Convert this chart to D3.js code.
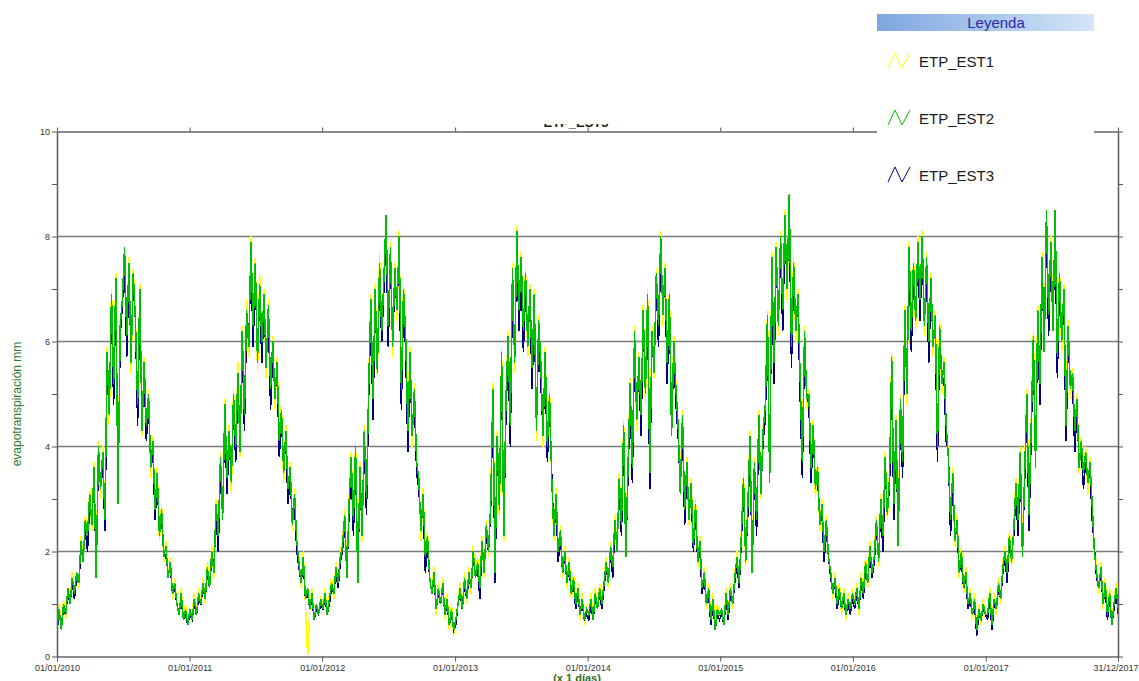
<!DOCTYPE html>
<html>
<head>
<meta charset="utf-8">
<script src="https://cdn.jsdelivr.net/npm/d3@7"></script>
<style>
  body { margin: 0; background: #fff; }
  text { font-family: "Liberation Sans", Arial, sans-serif; }
</style>
</head>
<body>
<div id="chart"></div>
<script>

// Series names, colours and axis labels.

var seriesNames = ['ETP_EST1', 'ETP_EST2', 'ETP_EST3'];
var seriesColors = ['#ffff00', '#00bf00', '#000080'];
var xTickLabels = ['01/01/2010', '01/01/2011', '01/01/2012', '01/01/2013', '01/01/2014',
  '01/01/2015', '01/01/2016', '01/01/2017', '31/12/2017'];
var yTickLabels = [0, 2, 4, 6, 8, 10];

// Readings start on this day and are spaced stepDays apart.

var startDate = '01/01/2010';
var stepDays = 6;

// ETP_EST1 (yellow), one line per year.

var etpEst1 = [
  0.6, 1.0, 0.5, 1.1, 0.7, 1.3, 1.0, 1.6, 1.2, 1.6, 1.3, 2.3, 1.8, 2.7, 2.3, 3.2, 2.4, 3.7, 1.6, 4.1, 3.0, 4.0, 2.6, 5.9, 4.4, 7.0, 5.3, 7.3, 3.0, 6.4, 6.6, 7.7, 6.0, 7.6, 5.4, 7.4, 6.5, 4.6, 7.1, 4.2, 5.7, 4.3, 5.1, 3.4, 4.2, 2.7, 3.6, 2.2, 2.9, 1.8, 2.2, 1.5, 1.9, 1.1, 1.5, 1.0, 0.8, 1.3, 0.7, 1.0, 0.6,
  0.9, 0.8, 1.2, 0.8, 1.3, 1.0, 1.5, 1.0, 1.8, 1.3, 2.1, 1.5, 3.0, 2.2, 3.9, 2.6, 4.9, 3.3, 4.4, 3.1, 5.1, 3.9, 5.6, 3.8, 6.3, 4.4, 6.8, 5.7, 8.0, 6.1, 7.6, 5.4, 7.3, 5.8, 7.0, 5.3, 6.8, 4.8, 6.1, 4.7, 5.7, 4.2, 4.8, 3.3, 4.4, 3.1, 3.7, 2.4, 3.2, 2.1, 1.9, 1.3, 2.0, 1.0, 0.0, 0.9, 1.3, 0.7, 1.0, 0.8, 1.1,
  1.0, 1.3, 0.8, 1.2, 1.5, 1.1, 1.8, 1.3, 2.0, 2.2, 2.8, 1.6, 3.0, 3.9, 2.5, 4.1, 1.5, 3.7, 2.2, 4.4, 2.9, 5.2, 6.9, 4.7, 7.1, 5.3, 7.7, 6.0, 7.3, 8.3, 6.1, 7.9, 5.7, 7.5, 6.4, 8.1, 5.0, 7.1, 6.0, 4.6, 5.9, 4.0, 5.2, 3.5, 3.5, 2.2, 3.2, 1.8, 2.4, 1.4, 1.3, 1.7, 0.8, 1.4, 1.0, 1.5, 0.7, 1.2, 0.5, 1.0, 0.4,
  0.6, 1.1, 1.4, 0.9, 1.6, 1.0, 1.7, 1.2, 2.1, 1.5, 1.9, 1.3, 2.3, 1.5, 2.6, 1.9, 3.0, 5.2, 1.5, 4.3, 2.6, 5.9, 2.2, 5.0, 6.2, 4.2, 7.5, 5.4, 8.2, 6.4, 7.7, 6.0, 7.4, 5.7, 7.1, 5.3, 7.0, 4.1, 6.5, 5.4, 4.0, 5.9, 3.9, 5.1, 3.3, 2.2, 3.2, 1.9, 2.5, 1.5, 2.1, 1.3, 1.9, 1.1, 1.6, 0.9, 1.4, 0.7, 1.2, 0.6, 1.0,
  0.8, 1.2, 0.7, 1.3, 0.9, 1.4, 0.9, 1.5, 1.9, 1.3, 2.2, 1.6, 2.7, 2.1, 3.5, 2.4, 4.5, 2.0, 3.7, 5.3, 3.5, 6.3, 4.3, 5.8, 4.5, 6.7, 4.8, 7.0, 3.8, 6.3, 5.3, 7.4, 6.1, 8.1, 6.3, 7.5, 5.4, 7.0, 4.4, 6.1, 5.2, 4.3, 3.3, 4.7, 2.7, 3.8, 2.5, 3.4, 2.0, 3.0, 1.7, 2.3, 1.2, 1.7, 0.9, 1.4, 0.7, 1.2, 0.6, 1.0, 0.8,
  0.8, 0.6, 1.3, 0.8, 1.4, 0.9, 1.6, 2.0, 1.3, 2.4, 3.5, 1.7, 3.0, 4.3, 1.7, 3.8, 2.4, 4.7, 3.0, 4.4, 4.6, 6.6, 3.5, 7.7, 5.4, 7.9, 6.1, 8.1, 6.4, 8.5, 6.8, 8.6, 6.1, 7.6, 6.0, 7.0, 5.1, 3.9, 6.3, 4.7, 5.1, 3.4, 4.5, 3.0, 3.7, 2.4, 3.0, 1.9, 2.7, 1.8, 1.7, 1.1, 1.6, 0.9, 1.4, 0.8, 1.3, 0.7, 1.2, 0.8, 1.3,
  1.0, 1.4, 0.8, 1.6, 1.2, 1.9, 1.3, 2.2, 1.5, 2.0, 2.7, 1.7, 3.1, 2.2, 3.9, 2.6, 3.5, 5.8, 2.7, 4.6, 2.3, 5.0, 3.6, 6.7, 4.8, 7.9, 6.0, 7.6, 6.2, 8.0, 6.6, 8.1, 6.1, 7.7, 5.8, 7.3, 5.7, 6.6, 4.2, 6.4, 5.0, 5.7, 4.3, 3.9, 2.5, 3.6, 2.1, 2.7, 1.5, 2.1, 1.2, 1.7, 0.9, 1.3, 0.7, 1.2, 0.5, 1.0, 0.6, 1.1, 0.7,
  0.8, 1.3, 0.6, 1.2, 0.8, 1.5, 1.0, 1.8, 2.1, 1.5, 2.4, 1.7, 2.5, 3.4, 2.5, 4.0, 2.1, 3.6, 5.1, 2.9, 4.5, 6.2, 3.9, 6.7, 5.0, 7.7, 6.0, 8.4, 6.3, 8.0, 6.4, 8.3, 5.9, 7.4, 5.8, 7.1, 4.7, 6.4, 4.9, 5.5, 4.1, 5.0, 3.5, 4.2, 3.3, 4.0, 3.1, 3.8, 2.7, 2.1, 1.7, 1.2, 1.8, 0.9, 1.5, 0.7, 1.3, 0.6, 1.1, 1.4, 0.9
];

// ETP_EST2 (green).

var etpEst2 = [
  0.6, 0.9, 0.5, 1.0, 0.8, 1.3, 1.0, 1.5, 1.2, 1.6, 1.4, 2.2, 1.8, 2.6, 2.3, 3.1, 2.5, 3.6, 1.5, 4.0, 3.2, 3.9, 2.6, 5.8, 4.6, 6.9, 5.2, 7.2, 2.9, 6.3, 6.8, 7.8, 6.1, 7.5, 5.6, 7.3, 6.4, 4.8, 7.0, 4.3, 5.6, 4.4, 5.0, 3.6, 4.1, 2.8, 3.5, 2.3, 2.8, 1.9, 2.1, 1.5, 1.8, 1.2, 1.4, 1.0, 0.8, 1.2, 0.7, 0.9, 0.6,
  0.9, 0.7, 1.1, 0.8, 1.2, 1.0, 1.4, 1.1, 1.7, 1.3, 2.0, 1.6, 2.9, 2.3, 3.8, 2.6, 4.8, 3.4, 4.3, 3.3, 5.0, 4.0, 5.4, 3.9, 6.2, 4.6, 6.6, 5.9, 7.9, 6.3, 7.5, 5.6, 7.1, 6.0, 6.9, 5.5, 6.7, 5.1, 6.0, 4.9, 5.6, 4.1, 4.7, 3.5, 4.3, 3.2, 3.6, 2.5, 3.1, 2.2, 1.8, 1.4, 1.9, 1.1, 1.3, 0.9, 1.2, 0.7, 1.0, 0.8, 1.1,
  0.9, 1.2, 0.8, 1.1, 1.4, 1.2, 1.7, 1.4, 1.9, 2.1, 2.7, 1.5, 2.9, 3.8, 2.6, 4.0, 1.4, 3.6, 2.3, 4.3, 3.0, 5.1, 6.8, 4.9, 7.0, 5.4, 7.5, 6.2, 7.2, 8.4, 6.3, 7.8, 5.9, 7.4, 6.6, 8.0, 5.1, 7.0, 6.1, 4.3, 5.8, 4.2, 5.1, 3.7, 3.4, 2.4, 3.1, 1.9, 2.3, 1.5, 1.2, 1.6, 0.9, 1.3, 1.0, 1.4, 0.8, 1.1, 0.6, 0.9, 0.5,
  0.7, 1.0, 1.3, 0.9, 1.5, 1.1, 1.6, 1.3, 2.0, 1.5, 1.8, 1.3, 2.2, 1.6, 2.5, 2.0, 2.9, 5.1, 1.6, 4.2, 2.8, 5.8, 2.3, 4.9, 6.1, 4.4, 7.4, 5.6, 8.1, 6.6, 7.6, 6.2, 7.3, 5.9, 7.0, 5.5, 6.9, 4.3, 6.4, 5.6, 4.2, 5.8, 4.0, 5.0, 3.4, 2.3, 3.1, 2.0, 2.4, 1.6, 2.0, 1.4, 1.8, 1.2, 1.5, 1.0, 1.3, 0.8, 1.1, 0.7, 0.9,
  0.8, 1.1, 0.7, 1.2, 0.9, 1.3, 1.0, 1.4, 1.8, 1.4, 2.1, 1.7, 2.6, 2.0, 3.4, 2.5, 4.4, 1.9, 3.6, 5.2, 3.6, 6.2, 4.5, 5.7, 4.6, 6.6, 5.0, 6.9, 3.5, 6.2, 5.4, 7.3, 6.3, 8.0, 6.5, 7.4, 5.6, 6.9, 4.2, 6.0, 5.1, 4.4, 3.1, 4.6, 2.8, 3.7, 2.6, 3.3, 2.1, 2.9, 1.8, 2.2, 1.3, 1.6, 1.0, 1.3, 0.7, 1.1, 0.5, 0.9, 0.8,
  0.9, 0.6, 1.2, 0.8, 1.3, 1.0, 1.5, 1.9, 1.4, 2.3, 3.4, 1.8, 2.9, 4.2, 1.6, 3.7, 2.6, 4.6, 3.1, 4.3, 4.8, 6.5, 3.3, 7.6, 5.6, 7.8, 6.3, 8.0, 6.6, 8.4, 7.0, 8.8, 5.9, 7.5, 6.2, 6.9, 5.3, 3.7, 6.2, 4.9, 5.0, 3.6, 4.4, 3.2, 3.6, 2.5, 2.9, 2.0, 2.6, 1.9, 1.6, 1.2, 1.5, 1.0, 1.3, 0.9, 1.2, 0.8, 1.1, 0.9, 1.2,
  1.0, 1.3, 0.9, 1.5, 1.2, 1.8, 1.4, 2.1, 1.6, 1.9, 2.6, 1.8, 3.0, 2.3, 3.8, 2.7, 3.4, 5.7, 2.9, 4.5, 2.1, 4.9, 3.7, 6.6, 5.0, 7.8, 6.2, 7.5, 6.4, 7.9, 6.8, 8.0, 6.3, 7.6, 6.0, 7.2, 5.9, 6.5, 4.0, 6.3, 5.2, 5.6, 4.4, 3.8, 2.6, 3.5, 2.2, 2.6, 1.6, 2.0, 1.3, 1.6, 1.0, 1.2, 0.8, 1.1, 0.5, 0.9, 0.7, 1.0, 0.8,
  0.8, 1.2, 0.6, 1.1, 0.9, 1.4, 1.1, 1.7, 2.0, 1.6, 2.3, 1.8, 2.4, 3.3, 2.6, 3.9, 1.9, 3.5, 5.0, 2.7, 4.4, 6.1, 3.6, 6.6, 5.2, 7.6, 5.8, 8.5, 6.5, 7.9, 6.2, 8.5, 5.7, 7.3, 6.0, 7.0, 4.4, 6.3, 5.1, 5.4, 4.3, 4.9, 3.6, 4.1, 3.5, 3.9, 3.3, 3.7, 2.9, 2.0, 1.6, 1.3, 1.7, 1.0, 1.4, 0.8, 1.2, 0.6, 1.0, 1.3, 0.9
];

// ETP_EST3 (blue).

var etpEst3 = [
  0.5, 0.8, 0.6, 0.9, 0.8, 1.2, 1.0, 1.4, 1.1, 1.5, 1.4, 2.0, 1.9, 2.4, 2.0, 2.9, 2.6, 3.4, 1.6, 3.8, 3.3, 3.7, 2.4, 5.5, 4.7, 6.6, 4.8, 7.0, 3.0, 6.1, 6.7, 7.5, 5.7, 7.3, 5.7, 7.1, 6.4, 4.4, 6.8, 4.4, 5.4, 4.1, 4.8, 3.7, 3.9, 2.6, 3.3, 2.4, 2.6, 2.0, 1.9, 1.6, 1.7, 1.2, 1.3, 1.0, 0.8, 1.1, 0.7, 0.8, 0.6,
  0.8, 0.7, 1.0, 0.8, 1.1, 1.0, 1.3, 1.1, 1.6, 1.3, 1.9, 1.7, 2.7, 2.0, 3.6, 2.7, 4.6, 3.1, 4.1, 3.4, 4.8, 3.7, 5.2, 4.0, 6.0, 4.3, 6.4, 6.0, 7.6, 5.9, 7.3, 5.7, 6.9, 5.6, 6.7, 5.6, 6.5, 4.7, 5.8, 5.0, 5.4, 3.8, 4.5, 3.6, 4.1, 2.9, 3.4, 2.6, 2.9, 2.0, 1.7, 1.4, 1.8, 1.1, 1.2, 0.9, 1.1, 0.7, 0.9, 0.8, 1.0,
  0.9, 1.1, 0.8, 1.0, 1.3, 1.2, 1.6, 1.3, 1.8, 2.0, 2.5, 1.6, 2.7, 3.6, 2.3, 3.8, 1.5, 3.4, 2.4, 4.1, 2.7, 4.9, 6.5, 4.5, 6.8, 5.5, 7.2, 6.0, 7.0, 8.1, 5.9, 7.6, 6.0, 7.1, 6.7, 7.7, 4.7, 6.8, 5.8, 3.9, 5.5, 4.3, 4.9, 3.5, 3.2, 2.5, 2.9, 1.6, 2.1, 1.5, 1.2, 1.5, 0.9, 1.2, 1.0, 1.3, 0.8, 1.0, 0.6, 0.8, 0.5,
  0.6, 1.0, 1.2, 0.9, 1.4, 1.1, 1.5, 1.3, 1.9, 1.5, 1.7, 1.1, 2.1, 1.7, 2.3, 2.0, 2.8, 4.8, 1.4, 4.0, 2.9, 5.5, 2.4, 4.6, 5.8, 4.0, 7.1, 5.7, 7.8, 6.2, 7.3, 5.8, 7.0, 6.0, 6.8, 5.1, 6.6, 4.4, 6.1, 5.2, 4.3, 5.5, 3.7, 4.8, 3.5, 2.3, 2.9, 1.8, 2.3, 1.6, 1.9, 1.4, 1.7, 1.2, 1.4, 0.9, 1.2, 0.8, 1.0, 0.7, 0.8,
  0.7, 1.0, 0.7, 1.1, 0.9, 1.2, 0.9, 1.3, 1.7, 1.4, 2.0, 1.5, 2.5, 2.1, 3.2, 2.3, 4.2, 2.0, 3.4, 5.0, 3.3, 6.0, 4.6, 5.5, 4.2, 6.4, 5.1, 6.7, 3.2, 6.0, 5.5, 7.1, 5.9, 7.7, 6.6, 7.2, 5.2, 6.7, 4.3, 5.8, 4.8, 4.2, 3.2, 4.4, 2.5, 3.5, 2.7, 3.1, 2.0, 2.7, 1.8, 2.0, 1.2, 1.5, 1.0, 1.2, 0.6, 1.0, 0.5, 0.8, 0.7,
  0.8, 0.6, 1.1, 0.7, 1.2, 1.0, 1.4, 1.8, 1.3, 2.2, 3.2, 1.9, 2.7, 4.0, 1.7, 3.5, 2.3, 4.4, 3.2, 4.1, 4.5, 6.3, 3.4, 7.3, 5.2, 7.6, 6.4, 7.7, 6.2, 8.1, 7.1, 8.5, 5.5, 7.3, 6.3, 6.7, 4.9, 3.4, 6.0, 5.0, 4.8, 3.3, 4.2, 3.3, 3.4, 2.6, 2.7, 1.8, 2.4, 1.9, 1.5, 1.2, 1.4, 0.9, 1.2, 0.9, 1.1, 0.8, 1.0, 0.8, 1.1,
  0.9, 1.2, 0.9, 1.4, 1.1, 1.7, 1.4, 2.0, 1.5, 1.8, 2.4, 1.9, 2.8, 2.0, 3.6, 2.8, 3.2, 5.5, 2.6, 4.3, 2.2, 4.7, 3.4, 6.4, 5.1, 7.6, 5.8, 7.3, 6.5, 7.6, 6.4, 7.7, 6.4, 7.3, 5.6, 7.0, 6.0, 6.2, 3.7, 6.0, 5.3, 5.3, 4.1, 3.9, 2.3, 3.3, 2.3, 2.4, 1.6, 1.8, 1.3, 1.5, 0.9, 1.1, 0.8, 1.0, 0.4, 0.8, 0.7, 0.9, 0.8,
  0.7, 1.1, 0.5, 1.0, 0.9, 1.3, 1.1, 1.6, 1.9, 1.4, 2.2, 1.9, 2.3, 3.1, 2.3, 3.7, 2.0, 3.3, 4.8, 2.4, 4.2, 5.9, 3.7, 6.4, 4.8, 7.4, 5.9, 8.2, 6.1, 7.7, 6.3, 8.2, 5.3, 7.1, 6.1, 6.8, 4.1, 6.0, 5.2, 5.2, 3.9, 4.7, 3.7, 3.9, 3.2, 3.7, 3.4, 3.5, 2.6, 2.1, 1.5, 1.3, 1.6, 1.0, 1.3, 0.7, 1.1, 0.6, 0.9, 1.2, 0.8
];

var width = 1139,
  height = 681;

var margin = {
  top: 131.5,
  right: 21,
  bottom: 24.5,
  left: 57
};

var parseDay = d3.timeParse('%d/%m/%Y');
var start = parseDay(startDate);

var svg = d3.select('#chart')
  .append('svg')
  .attr('width', width)
  .attr('height', height);

// Scales.

var xScale = d3.scaleTime()
  .domain([parseDay(xTickLabels[0]), parseDay(xTickLabels[xTickLabels.length - 1])])
  .range([margin.left, width - margin.right]);

var yScale = d3.scaleLinear()
  .domain([0, 10])
  .range([height - margin.bottom, margin.top]);

var x0 = xScale.range()[0],
  x1 = xScale.range()[1],
  y0 = yScale.range()[0],
  y1 = yScale.range()[1];

// Horizontal grid lines.

svg.append('g')
  .selectAll('line')
  .data(yTickLabels.slice(1, -1))
  .enter()
  .append('line')
  .attr('x1', x0)
  .attr('x2', x1)
  .attr('y1', function(d) { return yScale(d); })
  .attr('y2', function(d) { return yScale(d); })
  .attr('stroke', '#7a7a7a')
  .attr('stroke-width', 1.6);

// Build the series (yellow, blue, then green on top) and clip them to the plot.

var series = [0, 2, 1].map(function(idx) {
  var values = [etpEst1, etpEst2, etpEst3][idx];
  return {
    name: seriesNames[idx],
    color: seriesColors[idx],
    points: values.map(function(v, i) {
      return { date: d3.timeDay.offset(start, i * stepDays), value: v };
    })
  };
});

svg.append('clipPath')
  .attr('id', 'plotClip')
  .append('rect')
  .attr('x', x0)
  .attr('y', y1)
  .attr('width', x1 - x0)
  .attr('height', y0 - y1);

var line = d3.line()
  .x(function(d) { return xScale(d.date); })
  .y(function(d) { return yScale(d.value); });

svg.append('g')
  .attr('clip-path', 'url(#plotClip)')
  .selectAll('path')
  .data(series)
  .enter()
  .append('path')
  .attr('d', function(d) { return line(d.points); })
  .attr('fill', 'none')
  .attr('stroke', function(d) { return d.color; })
  .attr('stroke-width', 1.5)
  .attr('shape-rendering', 'crispEdges');

// Axes: labelled left and bottom, tick-only top and right.

var tickDates = xTickLabels.map(parseDay);
var unitTicks = d3.range(0, 11);

var leftAxis = svg.append('g')
  .attr('transform', 'translate(' + x0 + ',0)')
  .call(d3.axisLeft(yScale)
    .tickValues(unitTicks)
    .tickSize(5)
    .tickSizeOuter(0)
    .tickPadding(2)
    .tickFormat(function(d) { return d % 2 ? '' : d; }));

var bottomAxis = svg.append('g')
  .attr('transform', 'translate(0,' + y0 + ')')
  .call(d3.axisBottom(xScale)
    .tickValues(tickDates)
    .tickSize(5)
    .tickSizeOuter(0)
    .tickPadding(3)
    .tickFormat(function(d, i) { return xTickLabels[i]; }));

// The last date label sits against the right edge of the window.
bottomAxis.selectAll('.tick:last-of-type text')
  .attr('text-anchor', 'end')
  .attr('x', 20);

var topAxis = svg.append('g')
  .attr('transform', 'translate(0,' + y1 + ')')
  .call(d3.axisTop(xScale)
    .tickValues(tickDates)
    .tickSize(4)
    .tickSizeOuter(0)
    .tickFormat(''));

var rightAxis = svg.append('g')
  .attr('transform', 'translate(' + x1 + ',0)')
  .call(d3.axisRight(yScale)
    .tickValues(unitTicks)
    .tickSize(5)
    .tickSizeOuter(0)
    .tickFormat(''));

[leftAxis, bottomAxis, topAxis, rightAxis].forEach(function(a) {
  a.select('.domain').attr('stroke', '#666').attr('stroke-width', 1.6);
  a.selectAll('.tick line').attr('stroke', '#555');
  a.selectAll('.tick text')
    .attr('fill', '#333')
    .style('font-size', '9px')
    .style('font-family', '"Liberation Sans", Arial, sans-serif');
});

// Axis titles.

svg.append('text')
  .attr('transform', 'translate(21,' + ((y0 + y1) / 2 + 10) + ') rotate(-90)')
  .attr('text-anchor', 'middle')
  .attr('fill', '#2b7a2b')
  .style('font-size', '12px')
  .text('evapotranspiración mm');

svg.append('text')
  .attr('x', 577)
  .attr('y', 682)
  .attr('text-anchor', 'middle')
  .attr('fill', '#2e6b1e')
  .style('font-size', '11px')
  .style('font-weight', 'bold')
  .text('(x 1 días)');

// Chart title, mostly hidden above the frame.

svg.append('clipPath')
  .attr('id', 'titleClip')
  .append('rect')
  .attr('x', 0)
  .attr('y', 124)
  .attr('width', width)
  .attr('height', 8);

svg.append('text')
  .attr('clip-path', 'url(#titleClip)')
  .attr('x', 576)
  .attr('y', 127)
  .attr('text-anchor', 'middle')
  .attr('fill', '#222')
  .style('font-size', '13px')
  .style('font-weight', 'bold')
  .text('ETP_EST3');

// Legend panel on top of the plot.

var grad = svg.append('defs')
  .append('linearGradient')
  .attr('id', 'legendHead');

grad.append('stop').attr('offset', '0%').attr('stop-color', '#7ea6e0');
grad.append('stop').attr('offset', '100%').attr('stop-color', '#d4e5f8');

var legend = svg.append('g')
  .attr('transform', 'translate(877,0)');

legend.append('rect')
  .attr('width', 217)
  .attr('height', 200)
  .attr('fill', '#fff');

legend.append('rect')
  .attr('y', 14)
  .attr('width', 217)
  .attr('height', 17)
  .attr('fill', 'url(#legendHead)');

legend.append('text')
  .attr('x', 119)
  .attr('y', 27.5)
  .attr('text-anchor', 'middle')
  .attr('fill', '#2a2aa8')
  .style('font-size', '15px')
  .text('Leyenda');

var zigzag = d3.line()([[0, 15], [7, 0], [14, 15], [22, 0]]);

var items = legend.selectAll('.item')
  .data(seriesNames)
  .enter()
  .append('g')
  .attr('class', 'item')
  .attr('transform', function(d, i) { return 'translate(11,' + (53 + i * 57) + ')'; });

items.append('path')
  .attr('d', zigzag)
  .attr('fill', 'none')
  .attr('stroke', function(d, i) { return seriesColors[i]; })
  .attr('stroke-width', 1);

items.append('text')
  .attr('x', 31)
  .attr('y', 14)
  .attr('fill', '#1a1a1a')
  .style('font-size', '15px')
  .text(function(d) { return d; });

</script>
</body>
</html>
